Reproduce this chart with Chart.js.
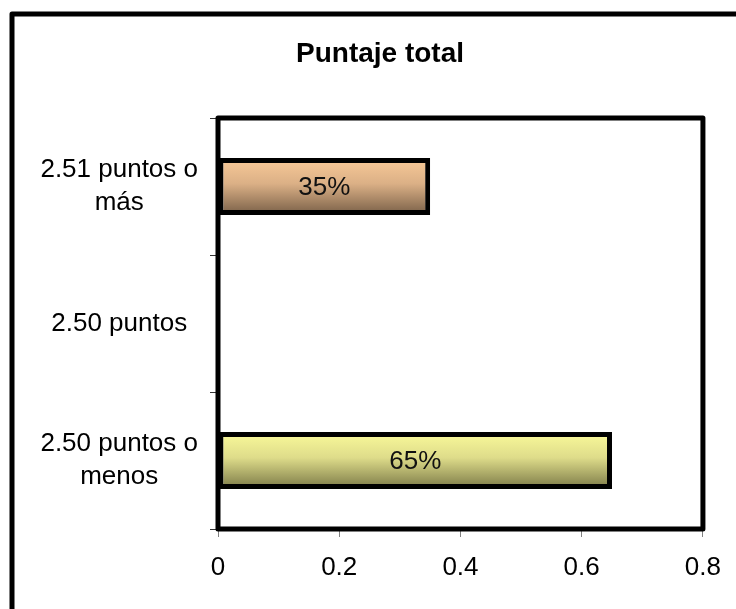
<!DOCTYPE html>
<html>
<head>
<meta charset="utf-8">
<script src="https://cdn.jsdelivr.net/npm/chart.js@4/dist/chart.umd.min.js"></script>
<style>
  html, body { margin: 0; padding: 0; background: #ffffff; }
  #wrap { width: 736px; height: 609px; }
</style>
</head>
<body>
<div id="wrap"><canvas id="c" width="736" height="609"></canvas></div>
<script>
const categories = [["2.51 puntos o", "más"], "2.50 puntos", ["2.50 puntos o", "menos"]];
const values = [0.35, null, 0.65];
const xTicks = [0, 0.2, 0.4, 0.6, 0.8];
const titleText = "Puntaje total";

const topColors = ["#f9ca98", null, "#fafa9a"];
const midColors = ["#dbb086", null, "#dedc8a"];
const bottomColors = ["#785f47", null, "#7b7947"];

const FONT = "'Liberation Sans', Arial, sans-serif";
const BAR_PCT = 0.415;

const framePlugin = {
  id: 'frames',
  beforeDraw(chart) {
    const ctx = chart.ctx;
    ctx.save();
    ctx.fillStyle = '#ffffff';
    ctx.fillRect(0, 0, chart.width, chart.height);
    ctx.strokeStyle = '#000000';
    ctx.lineWidth = 5;
    ctx.lineJoin = 'round';
    ctx.strokeRect(12, 14, 760, 640);
    ctx.font = 'bold 28px ' + FONT;
    ctx.fillStyle = '#000000';
    ctx.textAlign = 'center';
    ctx.textBaseline = 'middle';
    ctx.fillText(titleText, 380, 54);
    ctx.restore();
  },
  afterDatasetsDraw(chart) {
    const ctx = chart.ctx;
    const a = chart.chartArea;
    ctx.save();
    const meta = chart.getDatasetMeta(0);
    ctx.font = '26px ' + FONT;
    ctx.fillStyle = '#111111';
    ctx.textAlign = 'center';
    ctx.textBaseline = 'middle';
    meta.data.forEach((bar, i) => {
      const v = values[i];
      if (v === null || v === undefined) return;
      const cx = (bar.base + bar.x) / 2;
      ctx.fillText(Math.round(v * 100) + '%', cx, bar.y + 1);
    });
    ctx.strokeStyle = '#000000';
    ctx.lineWidth = 5;
    ctx.lineJoin = 'round';
    ctx.strokeRect(a.left, a.top, a.right - a.left, a.bottom - a.top);
    ctx.restore();
  }
};

function barGradient(context) {
  const chart = context.chart;
  const area = chart.chartArea;
  const i = context.dataIndex;
  if (!area || !topColors[i]) return topColors[i] || '#ccc';
  const yScale = chart.scales.y;
  const cy = yScale.getPixelForValue(i);
  const band = (area.bottom - area.top) / categories.length;
  const half = band * BAR_PCT / 2;
  const g = chart.ctx.createLinearGradient(0, cy - half, 0, cy + half);
  g.addColorStop(0, topColors[i]);
  g.addColorStop(0.45, midColors[i]);
  g.addColorStop(1, bottomColors[i]);
  return g;
}

new Chart(document.getElementById('c'), {
  type: 'bar',
  data: {
    labels: categories,
    datasets: [{
      data: values,
      backgroundColor: barGradient,
      borderColor: '#000000',
      borderWidth: 5,
      borderSkipped: false,
      categoryPercentage: 1,
      barPercentage: BAR_PCT
    }]
  },
  options: {
    indexAxis: 'y',
    responsive: false,
    animation: false,
    devicePixelRatio: 1,
    layout: { padding: { left: 0, right: 31, top: 118, bottom: 0 } },
    plugins: {
      legend: { display: false },
      tooltip: { enabled: false },
      title: { display: false }
    },
    scales: {
      x: {
        min: 0,
        max: 0.8,
        afterBuildTicks(scale) { scale.ticks = xTicks.map(v => ({ value: v })); },
        afterFit(scale) { scale.height = 80; },
        border: { display: false },
        grid: { drawOnChartArea: false, drawTicks: true, tickLength: 8, color: '#808080', lineWidth: 1 },
        ticks: {
          color: '#000000',
          font: { family: FONT, size: 26 },
          padding: 15,
          callback: (v) => String(v)
        }
      },
      y: {
        afterFit(scale) { scale.width = 218; },
        border: { display: false },
        grid: { offset: true, drawOnChartArea: false, drawTicks: true, tickLength: 8, color: '#333333', lineWidth: 1 },
        ticks: {
          color: '#000000',
          font: { family: FONT, size: 26, lineHeight: 1.27 },
          crossAlign: 'center',
          padding: 12
        }
      }
    }
  },
  plugins: [framePlugin]
});
</script>
</body>
</html>
